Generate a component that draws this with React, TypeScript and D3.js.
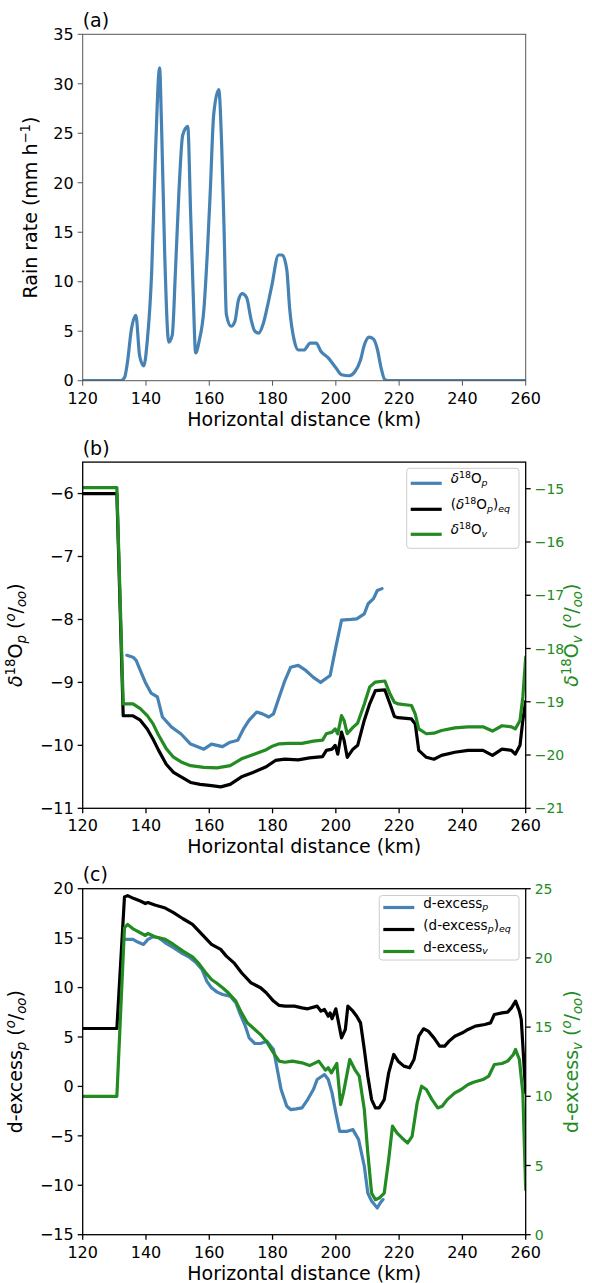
import React from "react";
import * as d3 from "d3";

// ---------------- DATA ----------------
const xTicks = [120, 140, 160, 180, 200, 220, 240, 260];

const rainTicks = [0, 5, 10, 15, 20, 25, 30, 35];
const rain: [number, number][] = [
  [120, 0], [132, 0], [133.2, 0.3], [134.2, 2], [135.3, 5], [136.8, 6.6], [138.0, 2.5], [139.3, 1.5],
  [140.4, 4], [141.8, 11], [143.0, 23], [144.3, 31.6], [144.9, 26], [145.9, 13], [147.2, 3.9],
  [148.3, 4.6], [149.3, 11], [150.4, 19], [151.6, 24.8], [153.2, 25.7], [154.1, 17], [154.9, 9],
  [155.7, 2.8], [156.8, 4], [158.3, 7.2], [159.4, 13], [160.3, 19], [161.4, 26.9], [163.0, 29.4],
  [163.9, 24], [164.7, 15], [165.4, 6.7], [166.9, 5.5], [168.1, 6], [169.2, 8.1], [170.4, 8.8],
  [171.8, 8.4], [173.2, 6.2], [174.4, 5], [175.6, 4.8], [177.0, 5.7], [178.3, 7.4], [179.7, 9.5],
  [181.9, 12.7], [183.1, 12.7], [184.5, 11.2], [185.4, 7.3], [186.9, 4], [188.2, 3.1], [189.9, 3.1],
  [191.9, 3.8], [193.8, 3.8], [195.2, 3], [197.6, 2.3], [200.0, 1.3], [201.8, 0.6], [204.2, 0.5],
  [206.0, 0.9], [207.8, 2.1], [209.0, 3.6], [210.5, 4.4], [211.9, 4.2], [213.1, 3.2], [214.3, 1.3],
  [215.5, 0.1], [216.5, 0], [260, 0],
];

const d18LeftTicks = [-11, -10, -9, -8, -7, -6];
const d18RightTicks = [-21, -20, -19, -18, -17, -16, -15];
const d18p: [number, number][] = [
  [133.95, -8.57], [135.9, -8.6], [136.9, -8.65], [138.2, -8.81], [139.8, -9.0], [141.6, -9.17],
  [143.6, -9.23], [145.2, -9.55], [148.1, -9.71], [151.1, -9.82], [154.1, -9.98], [158.3, -10.06],
  [160.7, -9.98], [164.2, -10.02], [166.6, -9.95], [169.0, -9.92], [170.8, -9.74], [172.6, -9.6],
  [175.0, -9.47], [176.8, -9.5], [178.8, -9.55], [180.3, -9.5], [182.1, -9.23], [183.9, -8.97],
  [185.7, -8.76], [188.1, -8.73], [190.5, -8.81], [192.9, -8.92], [195.2, -9.0], [198.2, -8.89],
  [200.0, -8.44], [201.8, -8.01], [204.8, -8.0], [206.6, -7.99], [209.0, -7.91], [210.2, -7.75],
  [211.9, -7.67], [213.1, -7.54], [214.6, -7.51],
];
const d18eq: [number, number][] = [
  [120, -6.0], [130.8, -6.0], [132.8, -9.53], [135.9, -9.53], [138.2, -9.6], [140.4, -9.74],
  [142.2, -9.9], [144.0, -10.08], [146.4, -10.3], [148.7, -10.43], [151.1, -10.5], [154.1, -10.59],
  [157.1, -10.62], [160.7, -10.64], [163.6, -10.66], [166.6, -10.62], [170.2, -10.5], [173.8, -10.43],
  [178.0, -10.34], [180.9, -10.24], [183.9, -10.22], [188.1, -10.23], [191.7, -10.2], [195.8, -10.18],
  [197.0, -10.08], [198.8, -10.06], [199.8, -10.0], [200.6, -10.14], [201.8, -9.79], [202.6, -9.92],
  [203.6, -10.19], [205.4, -10.06], [206.9, -10.0], [209.0, -9.6], [210.7, -9.34], [212.5, -9.13],
  [215.5, -9.12], [217.1, -9.34], [218.5, -9.54], [219.7, -9.56], [223.9, -9.58], [225.1, -9.66],
  [226.2, -10.08], [228.6, -10.19], [231.0, -10.22], [233.4, -10.16], [237.6, -10.11], [241.8, -10.08],
  [246.5, -10.08], [249.5, -10.16], [252.5, -10.06], [255.5, -10.08], [256.7, -10.14], [258.2, -10.0],
  [259.1, -9.6], [260, -9.3],
];
const d18v: [number, number][] = [
  [120, -14.98], [130.8, -14.98], [132.8, -19.04], [135.9, -19.04], [138.2, -19.13], [140.4, -19.26],
  [142.2, -19.41], [144.0, -19.63], [146.4, -19.88], [148.7, -20.04], [151.1, -20.13], [154.1, -20.2],
  [158.3, -20.23], [162.5, -20.24], [166.6, -20.2], [170.2, -20.07], [174.4, -19.98], [178.0, -19.9],
  [179.7, -19.84], [182.1, -19.79], [185.1, -19.78], [189.3, -19.78], [192.9, -19.74], [195.8, -19.72],
  [197.0, -19.6], [198.8, -19.57], [199.8, -19.51], [200.6, -19.6], [201.8, -19.26], [202.6, -19.35],
  [203.6, -19.6], [205.4, -19.48], [206.9, -19.4], [209.0, -19.04], [210.7, -18.72], [212.5, -18.63],
  [215.5, -18.61], [217.1, -18.85], [218.5, -19.01], [219.7, -19.04], [223.9, -19.07], [225.1, -19.23],
  [226.2, -19.51], [228.6, -19.6], [231.0, -19.59], [233.4, -19.54], [237.6, -19.49], [241.8, -19.47],
  [246.5, -19.47], [249.5, -19.55], [252.5, -19.45], [255.5, -19.47], [256.7, -19.51], [258.2, -19.35],
  [259.1, -18.91], [260, -18.16],
];

const dxLeftTicks = [-15, -10, -5, 0, 5, 10, 15, 20];
const dxRightTicks = [0, 5, 10, 15, 20, 25];
const dxp: [number, number][] = [
  [133.2, 14.87], [135.9, 14.87], [137.4, 14.6], [139.2, 14.36], [140.6, 14.87], [142.2, 15.14],
  [144.0, 15.04], [146.1, 14.53], [148.7, 14.03], [151.1, 13.52], [153.5, 13.12], [155.9, 12.5],
  [157.7, 11.83], [159.2, 10.65], [160.7, 9.98], [162.5, 9.54], [164.2, 9.3], [166.6, 9.13],
  [168.4, 8.46], [169.6, 7.45], [171.4, 6.1], [172.6, 4.91], [174.4, 4.34], [176.2, 4.34],
  [178.2, 4.58], [180.3, 3.73], [181.5, 1.71], [182.7, -0.32], [184.5, -2.0], [185.7, -2.34],
  [187.5, -2.27], [189.3, -2.17], [191.1, -1.33], [192.9, -0.32], [194.1, 0.7], [196.4, 1.2],
  [197.6, 0.7], [198.8, -0.65], [200.0, -2.68], [201.2, -4.54], [203.6, -4.54], [205.4, -4.37],
  [207.2, -5.38], [209.0, -8.08], [210.1, -10.78], [211.3, -11.6], [213.1, -12.3], [214.0, -11.8],
  [214.9, -11.45],
];
const dxeq: [number, number][] = [
  [120, 5.86], [130.8, 5.86], [133.2, 19.16], [134.2, 19.3], [136.2, 19.0], [138.2, 18.75],
  [139.8, 18.5], [140.6, 18.6], [142.8, 18.35], [145.8, 18.08], [148.7, 17.57], [151.7, 16.96],
  [154.7, 16.4], [157.7, 15.38], [160.7, 14.36], [163.6, 13.86], [165.4, 13.18], [167.8, 12.5],
  [170.2, 11.5], [173.2, 10.48], [176.2, 9.98], [178.0, 9.47], [180.3, 8.63], [182.1, 8.19],
  [183.9, 8.12], [186.9, 8.12], [189.3, 7.95], [191.1, 7.85], [194.1, 8.12], [195.3, 7.61],
  [196.4, 7.78], [197.6, 7.1], [198.2, 7.44], [198.8, 6.84], [200.0, 7.85], [201.8, 4.91],
  [203.0, 5.76], [203.8, 8.12], [205.4, 7.61], [206.6, 7.1], [207.8, 6.43], [209.0, 3.73],
  [210.1, 1.03], [211.3, -1.33], [212.5, -2.17], [213.7, -2.17], [215.3, -1.33], [216.7, 1.37],
  [218.3, 3.23], [219.7, 2.55], [221.5, 2.05], [223.3, 1.88], [224.7, 2.72], [226.2, 5.08],
  [227.7, 5.83], [229.2, 5.59], [231.0, 4.91], [232.8, 4.07], [234.4, 4.07], [235.8, 4.58],
  [237.6, 5.08], [240.0, 5.42], [241.8, 5.76], [244.1, 6.1], [247.1, 6.26], [248.9, 6.43],
  [250.1, 7.28], [252.5, 7.44], [254.3, 7.51], [255.5, 7.95], [256.8, 8.63], [258.0, 7.61],
  [258.6, 6.77], [260, -0.65],
];
const dxv: [number, number][] = [
  [120, 10.0], [130.8, 10.0], [133.2, 22.18], [134.2, 22.42], [136.2, 22.06], [138.2, 21.82],
  [139.8, 21.62], [140.6, 21.77], [142.8, 21.53], [146.1, 21.34], [148.7, 20.97], [151.7, 20.49],
  [154.7, 20.08], [156.5, 19.65], [158.9, 18.92], [160.7, 18.44], [162.5, 18.15], [164.2, 17.84],
  [166.0, 17.48], [168.4, 16.88], [170.2, 16.03], [172.0, 15.31], [173.8, 14.95], [176.2, 14.46],
  [178.0, 13.98], [180.3, 13.14], [182.1, 12.54], [183.9, 12.46], [186.3, 12.54], [189.3, 12.42],
  [191.7, 12.22], [194.6, 12.54], [196.7, 11.89], [197.6, 12.06], [198.6, 11.69], [200.3, 12.37],
  [201.5, 9.4], [202.4, 10.25], [203.6, 11.69], [204.4, 12.66], [206.0, 11.93], [207.4, 11.45],
  [209.0, 9.04], [210.1, 5.91], [211.3, 3.01], [212.5, 2.53], [213.7, 2.65], [215.3, 3.01],
  [216.7, 5.43], [217.9, 7.84], [219.3, 7.35], [220.9, 6.99], [222.7, 6.63], [224.1, 7.11],
  [225.7, 9.52], [227.1, 10.73], [228.6, 10.49], [230.4, 9.76], [232.2, 9.16], [233.6, 9.28],
  [235.2, 9.76], [237.6, 10.25], [239.6, 10.49], [241.8, 10.85], [243.5, 11.02], [246.5, 11.21],
  [248.3, 11.45], [250.1, 12.3], [252.5, 12.37], [254.3, 12.54], [256.1, 13.02], [256.8, 13.38],
  [258.0, 12.66], [259.1, 10.25], [260, 3.25],
];

// ---------------- STYLE ----------------
const BLUE = "#4682b4";
const GREEN = "#228b22";
const FONT = "DejaVu Sans, sans-serif";
const TICK_FS = 16;
const RTICK_FS = 14;
const LABEL_FS = 19;
const LEG_FS = 13.5;
const X0 = 82.7;
const X1 = 525.7;
const LW = 3.2;

type Seg = { t: string; s?: "sup" | "sub"; i?: boolean };

function richSpans(segs: Seg[], fs: number) {
  let cur = 0;
  return segs.map((g, k) => {
    const target = g.s === "sup" ? -0.38 * fs : g.s === "sub" ? 0.22 * fs : 0;
    const dy = target - cur;
    cur = target;
    return (
      <tspan
        key={k}
        dy={dy}
        fontSize={g.s ? fs * 0.7 : fs}
        fontStyle={g.i ? "italic" : "normal"}
      >
        {g.t}
      </tspan>
    );
  });
}

const permil: Seg[] = [
  { t: " (" },
  { t: "o", s: "sup", i: true },
  { t: "/" },
  { t: "oo", s: "sub", i: true },
  { t: ")" },
];

const x = d3.scaleLinear().domain([120, 260]).range([X0, X1]);

type Series = { data: [number, number][]; color: string; right?: boolean; curve?: any };

function Panel(props: {
  top: number;
  bottom: number;
  yDomain: [number, number];
  yTicks: number[];
  rDomain?: [number, number];
  rTicks?: number[];
  series: Series[];
  spine: string;
  spineW: number;
  letter: string;
  yLabel: Seg[];
  yLabelX: number;
  rLabel?: Seg[];
  rLabelX?: number;
  legend?: React.ReactNode;
}) {
  const { top, bottom } = props;
  const y = d3.scaleLinear().domain(props.yDomain).range([bottom, top]);
  const yr = props.rDomain ? d3.scaleLinear().domain(props.rDomain).range([bottom, top]) : null;
  const fmt = d3.format("");
  const midY = (top + bottom) / 2;
  return (
    <g>
      <defs>
        <clipPath id={"clip" + props.letter}>
          <rect x={X0} y={top} width={X1 - X0} height={bottom - top} />
        </clipPath>
      </defs>
      <g clipPath={`url(#clip${props.letter})`}>
        {props.series.map((s, i) => {
          const sc = s.right && yr ? yr : y;
          const line = d3
            .line<[number, number]>()
            .x((d) => x(d[0]))
            .y((d) => sc(d[1]))
            .curve(s.curve || d3.curveLinear);
          return (
            <path
              key={i}
              d={line(s.data) || ""}
              fill="none"
              stroke={s.color}
              strokeWidth={LW}
              strokeLinejoin="round"
              strokeLinecap="round"
            />
          );
        })}
      </g>
      {/* spines */}
      <rect
        x={X0}
        y={top}
        width={X1 - X0}
        height={bottom - top}
        fill="none"
        stroke={props.spine}
        strokeWidth={props.spineW}
      />
      {/* x ticks */}
      {xTicks.map((t) => (
        <g key={"x" + t}>
          <line x1={x(t)} x2={x(t)} y1={bottom} y2={bottom + 5} stroke={props.spine} strokeWidth={props.spineW} />
          <text x={x(t)} y={bottom + 23} textAnchor="middle" fontSize={TICK_FS} fontFamily={FONT} fill="#000">
            {fmt(t)}
          </text>
        </g>
      ))}
      {/* left y ticks */}
      {props.yTicks.map((t) => (
        <g key={"y" + t}>
          <line x1={X0 - 5} x2={X0} y1={y(t)} y2={y(t)} stroke={props.spine} strokeWidth={props.spineW} />
          <text x={X0 - 9} y={y(t)} dy="0.36em" textAnchor="end" fontSize={TICK_FS} fontFamily={FONT} fill="#000">
            {fmt(t)}
          </text>
        </g>
      ))}
      {/* right y ticks */}
      {yr &&
        props.rTicks!.map((t) => (
          <g key={"r" + t}>
            <line x1={X1} x2={X1 + 5} y1={yr(t)} y2={yr(t)} stroke="#000" strokeWidth={props.spineW} />
            <text x={X1 + 9} y={yr(t)} dy="0.36em" textAnchor="start" fontSize={RTICK_FS} fontFamily={FONT} fill={GREEN}>
              {fmt(t)}
            </text>
          </g>
        ))}
      {/* x label */}
      <text x={(X0 + X1) / 2} y={bottom + 45} textAnchor="middle" fontSize={LABEL_FS} fontFamily={FONT} fill="#000">
        Horizontal distance (km)
      </text>
      {/* panel letter */}
      <text x={X0} y={top - 7.5} fontSize={LABEL_FS} fontFamily={FONT} fill="#000">
        ({props.letter})
      </text>
      {/* y label */}
      <text
        transform={`translate(${props.yLabelX},${midY}) rotate(-90)`}
        textAnchor="middle"
        fontSize={LABEL_FS}
        fontFamily={FONT}
        fill="#000"
      >
        {richSpans(props.yLabel, LABEL_FS)}
      </text>
      {props.rLabel && (
        <text
          transform={`translate(${props.rLabelX},${midY}) rotate(-90)`}
          textAnchor="middle"
          fontSize={LABEL_FS}
          fontFamily={FONT}
          fill={GREEN}
        >
          {richSpans(props.rLabel, LABEL_FS)}
        </text>
      )}
      {props.legend}
    </g>
  );
}

function Legend(props: {
  x0: number;
  x1: number;
  y0: number;
  y1: number;
  rows: number[];
  entries: { color: string; label: Seg[] }[];
}) {
  return (
    <g>
      <rect
        x={props.x0}
        y={props.y0}
        width={props.x1 - props.x0}
        height={props.y1 - props.y0}
        rx={3}
        fill="#fff"
        fillOpacity={0.8}
        stroke="#cccccc"
        strokeWidth={1}
      />
      {props.entries.map((e, i) => (
        <g key={i}>
          <line
            x1={props.x0 + 4}
            x2={props.x0 + 35}
            y1={props.rows[i]}
            y2={props.rows[i]}
            stroke={e.color}
            strokeWidth={LW}
          />
          <text x={props.x0 + 44} y={props.rows[i]} dy="0.36em" fontSize={LEG_FS} fontFamily={FONT} fill="#000">
            {richSpans(e.label, LEG_FS)}
          </text>
        </g>
      ))}
    </g>
  );
}

export default function App() {
  const legB = (
    <Legend
      x0={406.7}
      x1={519}
      y0={468.3}
      y1={548.3}
      rows={[483.3, 509.3, 534.3]}
      entries={[
        { color: BLUE, label: [{ t: "δ", i: true }, { t: "18", s: "sup" }, { t: "O" }, { t: "p", s: "sub", i: true }] },
        {
          color: "#000",
          label: [
            { t: "(" },
            { t: "δ", i: true },
            { t: "18", s: "sup" },
            { t: "O" },
            { t: "p", s: "sub", i: true },
            { t: ")" },
            { t: "eq", s: "sub", i: true },
          ],
        },
        { color: GREEN, label: [{ t: "δ", i: true }, { t: "18", s: "sup" }, { t: "O" }, { t: "v", s: "sub", i: true }] },
      ]}
    />
  );
  const legC = (
    <Legend
      x0={379.3}
      x1={519}
      y0={895.5}
      y1={960}
      rows={[907.5, 929.5, 951.5]}
      entries={[
        { color: BLUE, label: [{ t: "d-excess" }, { t: "p", s: "sub", i: true }] },
        { color: "#000", label: [{ t: "(d-excess" }, { t: "p", s: "sub", i: true }, { t: ")" }, { t: "eq", s: "sub", i: true }] },
        { color: GREEN, label: [{ t: "d-excess" }, { t: "v", s: "sub", i: true }] },
      ]}
    />
  );
  return (
    <svg
      width={592}
      height={1283}
      style={{ position: "absolute", left: 0, top: 0, background: "#fff" }}
      xmlns="http://www.w3.org/2000/svg"
    >
      <rect width={592} height={1283} fill="#fff" />
      <Panel
        top={34.3}
        bottom={380.7}
        yDomain={[0, 35]}
        yTicks={rainTicks}
        series={[{ data: rain, color: BLUE, curve: d3.curveMonotoneX }]}
        spine="#555"
        spineW={1}
        letter="a"
        yLabel={[{ t: "Rain rate (mm h" }, { t: "−1", s: "sup" }, { t: ")" }]}
        yLabelX={37}
      />
      <Panel
        top={462.1}
        bottom={808.3}
        yDomain={[-11, -5.5]}
        yTicks={d18LeftTicks}
        rDomain={[-21, -14.5]}
        rTicks={d18RightTicks}
        series={[
          { data: d18p, color: BLUE },
          { data: d18eq, color: "#000" },
          { data: d18v, color: GREEN, right: true },
        ]}
        spine="#000"
        spineW={1.3}
        letter="b"
        yLabel={[{ t: "δ", i: true }, { t: "18", s: "sup" }, { t: "O" }, { t: "p", s: "sub", i: true }, ...permil]}
        yLabelX={22}
        rLabel={[{ t: "δ", i: true }, { t: "18", s: "sup" }, { t: "O" }, { t: "v", s: "sub", i: true }, ...permil]}
        rLabelX={578}
        legend={legB}
      />
      <Panel
        top={888.7}
        bottom={1234.7}
        yDomain={[-15, 20]}
        yTicks={dxLeftTicks}
        rDomain={[0, 25]}
        rTicks={dxRightTicks}
        series={[
          { data: dxp, color: BLUE },
          { data: dxeq, color: "#000" },
          { data: dxv, color: GREEN, right: true },
        ]}
        spine="#000"
        spineW={1.3}
        letter="c"
        yLabel={[{ t: "d-excess" }, { t: "p", s: "sub", i: true }, ...permil]}
        yLabelX={22}
        rLabel={[{ t: "d-excess" }, { t: "v", s: "sub", i: true }, ...permil]}
        rLabelX={578}
        legend={legC}
      />
    </svg>
  );
}
